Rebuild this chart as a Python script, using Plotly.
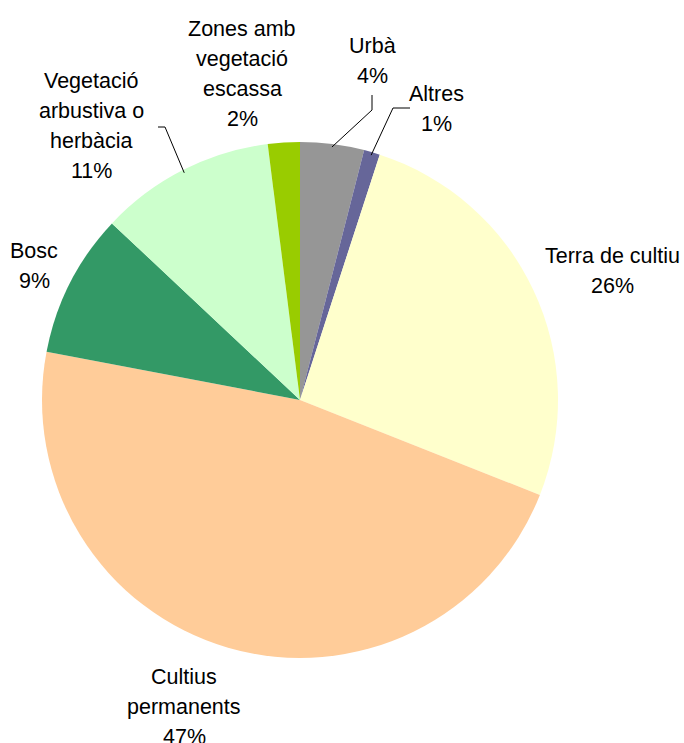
import math
import plotly.graph_objects as go

# ---- data ----
categories = ["Urbà", "Altres", "Terra de cultiu", "Cultius permanents", "Bosc",
              "Vegetació arbustiva o herbàcia", "Zones amb vegetació escassa"]
values = [4, 1, 26, 47, 9, 11, 2]
label_lines = [["Urbà"], ["Altres"], ["Terra de cultiu"], ["Cultius", "permanents"],
               ["Bosc"], ["Vegetació", "arbustiva o", "herbàcia"],
               ["Zones amb", "vegetació", "escassa"]]
colors = ["#969696", "#666699", "#FFFFCC", "#FFCC99", "#339966", "#CCFFCC", "#99CC00"]

# ---- layout (pixels) ----
W, H = 684, 743
CX, CY, R = 300, 400, 258
FONT = 21.5
LINE_GAP = 30
# label block: center x, y (cap middle of first line)
label_pos = {
    "Urbà": (372, 45),
    "Altres": (437, 93),
    "Terra de cultiu": (612, 255),
    "Cultius permanents": (184, 676),
    "Bosc": (34, 250),
    "Vegetació arbustiva o herbàcia": (91, 80),
    "Zones amb vegetació escassa": (242, 28),
}
# leader lines: elbow and end points (pixels)
leaders = {
    "Urbà": [(372, 110), (372, 95)],
    "Altres": [(393, 108), (410, 108)],
    "Vegetació arbustiva o herbàcia": [(165, 127), (158, 127)],
}


def px(x):
    return x / W


def py(y):
    return 1 - y / H


fig = go.Figure(go.Pie(
    labels=categories, values=values, sort=False, direction="clockwise",
    rotation=0, textinfo="none", hoverinfo="label+percent",
    marker=dict(colors=colors, line=dict(width=0)),
    domain=dict(x=[px(CX - R), px(CX + R)], y=[py(CY + R), py(CY - R)]),
    showlegend=False,
))

total = sum(values)
annotations = []
shapes = []
cum = 0
for cat, v, lines in zip(categories, values, label_lines):
    mid = (cum + v / 2) / total * 2 * math.pi
    cum += v
    pct = f"{round(v / total * 100)}%"
    lx, ly = label_pos[cat]
    for i, t in enumerate(lines + [pct]):
        annotations.append(dict(
            x=px(lx), y=py(ly + i * LINE_GAP + 1), xref="paper", yref="paper",
            text=t, showarrow=False, xanchor="center", yanchor="middle",
            font=dict(family="Liberation Sans, Arial, sans-serif", size=FONT, color="#000000"),
        ))
    if cat in leaders:
        sx = CX + (R - 3) * math.sin(mid)
        sy = CY - (R - 3) * math.cos(mid)
        pts = [(sx, sy)] + leaders[cat]
        path = "M " + " L ".join(f"{px(a)},{py(b)}" for a, b in pts)
        shapes.append(dict(type="path", path=path, xref="paper", yref="paper",
                           line=dict(color="#000000", width=1)))

fig.update_layout(
    width=W, height=H, margin=dict(l=0, r=0, t=0, b=0),
    paper_bgcolor="#FFFFFF", plot_bgcolor="#FFFFFF",
    annotations=annotations, shapes=shapes,
)
fig.write_html("out.html", config={"displayModeBar": False},
               post_script="document.body.style.margin='0px';document.body.style.overflow='hidden';")
